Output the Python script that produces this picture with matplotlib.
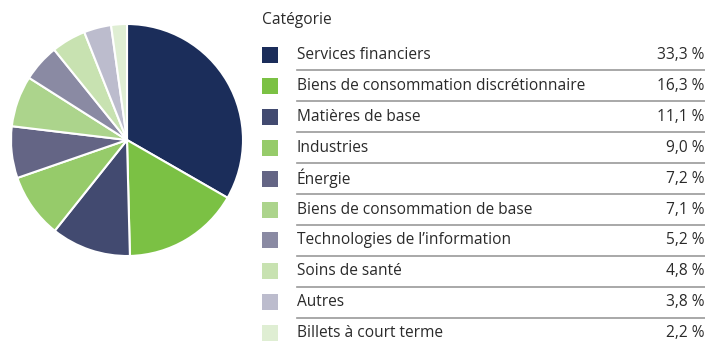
import matplotlib
matplotlib.use("Agg")
import matplotlib.pyplot as plt
from matplotlib.patches import Rectangle
from matplotlib.lines import Line2D

categories = [
    "Services financiers",
    "Biens de consommation discrétionnaire",
    "Matières de base",
    "Industries",
    "Énergie",
    "Biens de consommation de base",
    "Technologies de l’information",
    "Soins de santé",
    "Autres",
    "Billets à court terme",
]
values = [33.3, 16.3, 11.1, 9.0, 7.2, 7.1, 5.2, 4.8, 3.8, 2.2]
colors = [
    "#1b2d5a", "#7bc144", "#424a70", "#96cb6a", "#646585",
    "#acd48c", "#8a8aa3", "#c8e2b1", "#bcbccd", "#dfeed3",
]
legend_title = "Catégorie"

W, H = 705, 341
plt.rcParams["font.family"] = ["Open Sans", "DejaVu Sans"]
fig = plt.figure(figsize=(W / 100, H / 100), dpi=100)

def fx(px):
    return px / W

def fy(py):
    return 1 - py / H

# Pie
cx, cy, r = 127, 140, 116
ax = fig.add_axes([fx(cx - r), fy(cy + r), 2 * r / W, 2 * r / H])
ax.pie(values, colors=colors, startangle=90, counterclock=False,
       wedgeprops=dict(edgecolor="white", linewidth=1.5))
ax.set_aspect("auto")
ax.set_xlim(-1, 1)
ax.set_ylim(-1, 1)
ax.axis("off")

# Legend table
text_color = "#2a2a2a"
fs = 11.2
fig.text(fx(262), fy(20), legend_title, fontsize=fs, color=text_color,
         va="center", ha="left")
row0, step = 55, 30.9
for i, (cat, val, col) in enumerate(zip(categories, values, colors)):
    y = row0 + i * step
    fig.patches.append(Rectangle((fx(262), fy(y + 8)), 16 / W, 16 / H,
                                 transform=fig.transFigure, facecolor=col,
                                 edgecolor="none"))
    fig.text(fx(297), fy(y), cat, fontsize=fs, color=text_color,
             va="center", ha="left")
    fig.text(fx(704), fy(y), f"{val:.1f} %".replace(".", ","), fontsize=fs,
             color=text_color, va="center", ha="right")
    if i < len(categories) - 1:
        ly = y + step / 2
        fig.lines.append(Line2D([fx(297), fx(705)], [fy(ly), fy(ly)],
                                transform=fig.transFigure, color="#999999",
                                linewidth=1.2))

fig.savefig("out.png", dpi=100)
